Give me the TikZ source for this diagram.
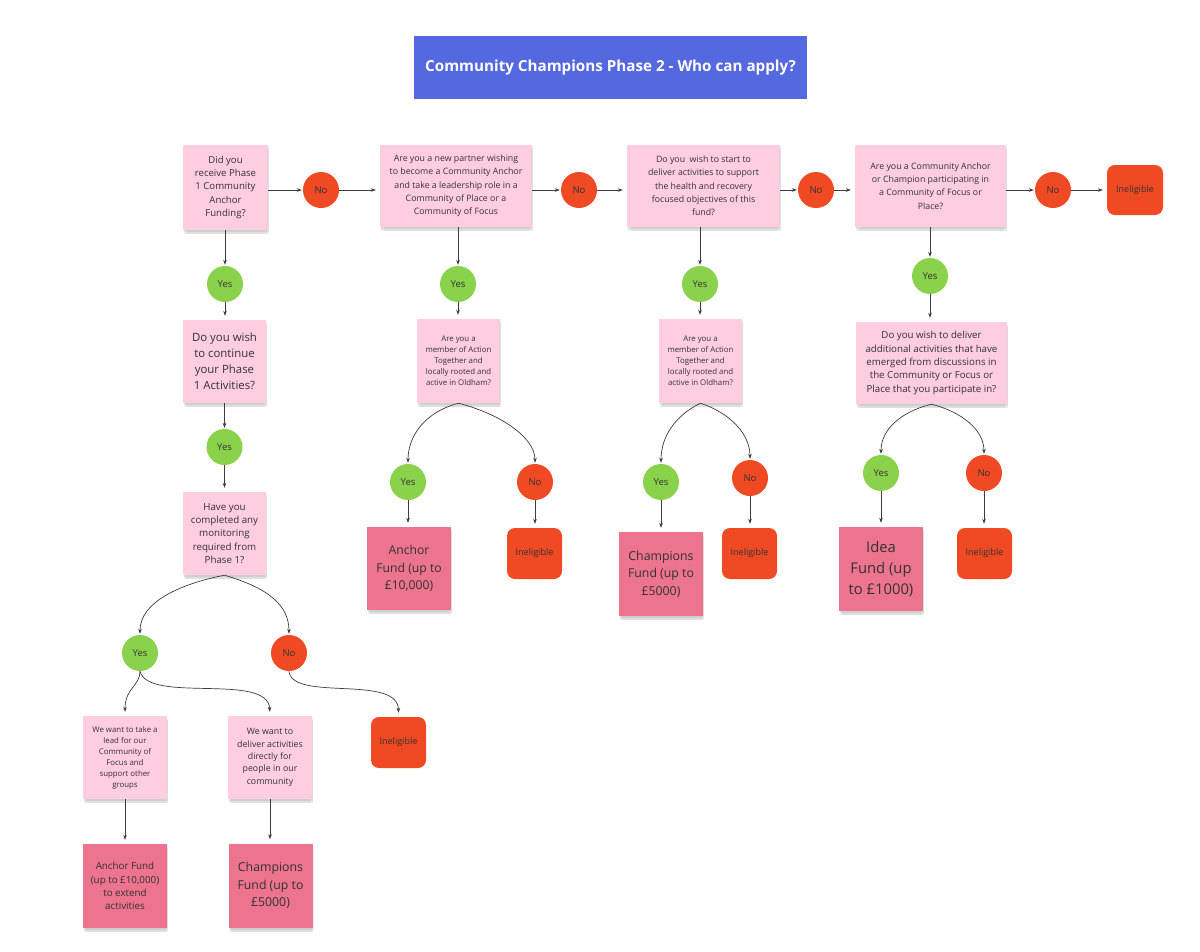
\documentclass[tikz,border=0pt]{standalone}
\usepackage{fontspec}
\setmainfont{Open Sans}
\usetikzlibrary{arrows.meta,shadows}
\definecolor{qpink}{RGB}{254,205,224}
\definecolor{fundpink}{RGB}{237,116,143}
\definecolor{nored}{RGB}{240,74,36}
\definecolor{okgreen}{RGB}{139,210,76}
\definecolor{titleblue}{RGB}{84,104,223}
\definecolor{txt}{RGB}{50,50,50}
\definecolor{linec}{RGB}{60,60,60}
\tikzset{
  base/.style={inner sep=0pt, align=center, text=txt},
  note/.style={base, rectangle, fill=qpink,
    drop shadow={shadow xshift=0.5pt, shadow yshift=-2pt, opacity=0.07, fill=black},
    drop shadow={shadow xshift=1pt, shadow yshift=-4pt, opacity=0.07, fill=black},
    drop shadow={shadow xshift=1pt, shadow yshift=-6pt, shadow scale=0.96, opacity=0.06, fill=black}},
  fund/.style={note, fill=fundpink},
  yesc/.style={base, circle, fill=okgreen, minimum size=36pt, font=\fontsize{9.5}{11}\selectfont},
  noc/.style={base, circle, fill=nored, minimum size=36pt, font=\fontsize{9.5}{11}\selectfont},
  inel/.style={base, rectangle, rounded corners=8pt, fill=nored, minimum width=55pt, minimum height=51pt, font=\fontsize{9}{11}\selectfont},
  arr/.style={draw=linec, line width=0.7pt, -{Stealth[length=5pt,width=3.6pt]}, shorten >=1pt},
  arrb/.style={arr, shorten >=4pt},
  fq/.style={font=\fontsize{8.8}{13.3}\selectfont},
  fs/.style={font=\fontsize{7.85}{11}\selectfont},
}
\begin{document}
\begin{tikzpicture}[x=1pt,y=-1pt]
\useasboundingbox (0,0) rectangle (1200,951);
\fill[white] (0,0) rectangle (1200,951);

% title
\node[base, rectangle, fill=titleblue, minimum width=393pt, minimum height=63pt, text=white,
  font=\fontsize{15.2}{18}\selectfont\bfseries] (title) at (610.5,67.5) {Community Champions Phase 2 - Who can apply?};

% top row
\node[note, minimum width=85pt, minimum height=85pt, font=\fontsize{9.6}{13.3}\selectfont] (q1) at (225.5,187.5)
  {Did you\\receive Phase\\1 Community\\Anchor\\Funding?};
\node[noc] (n1) at (321,190) {No};
\node[note, fq, minimum width=152pt, minimum height=82pt] (q2) at (456,186)
  {Are you a new partner wishing\\to become a Community Anchor\\and take a leadership role in a\\Community of Place or a\\Community of Focus};
\node[noc] (n2) at (579,190) {No};
\node[note, fq, minimum width=153pt, minimum height=82pt] (q3) at (703.5,186)
  {Do you\ \ wish to start to\\deliver activities to support\\the health and recovery\\focused objectives of this\\fund?};
\node[noc] (n3) at (816,190) {No};
\node[note, fq, minimum width=151pt, minimum height=82pt] (q4) at (930.5,186)
  {Are you a Community Anchor\\or Champion participating in\\a Community of Focus or\\Place?};
\node[noc] (n4) at (1053,190) {No};
\node[inel, minimum width=56pt, minimum height=50pt] (i0) at (1135,190) {Ineligible};

% column 1
\node[yesc] (y1) at (225,284) {Yes};
\node[note, minimum width=83pt, minimum height=83pt, font=\fontsize{11.4}{16}\selectfont] (q1b) at (224.5,361.5)
  {Do you wish\\to continue\\your Phase\\1 Activities?};
\node[yesc] (y1b) at (224.5,447) {Yes};
\node[note, minimum width=83pt, minimum height=83pt, font=\fontsize{9.75}{13.3}\selectfont] (q1c) at (224.5,533.5)
  {Have you\\completed any\\monitoring\\required from\\Phase 1?};
\node[yesc] (yc) at (140,653) {Yes};
\node[noc] (nc) at (289,653) {No};
\node[note, fs, minimum width=84pt, minimum height=83pt] (l1) at (125,757.5)
  {We want to take a\\lead for our\\Community of\\Focus and\\support other\\groups};
\node[note, minimum width=84pt, minimum height=83pt, font=\fontsize{8.8}{12.3}\selectfont] (l2) at (270,757.5)
  {We want to\\deliver activities\\directly for\\people in our\\community};
\node[inel] (ic) at (398.5,742.5) {Ineligible};
\node[fund, minimum width=84pt, minimum height=84pt, font=\fontsize{9.8}{13.3}\selectfont] (f1) at (125,886)
  {Anchor Fund\\(up to £10,000)\\to extend\\activities};
\node[fund, minimum width=84pt, minimum height=84pt, font=\fontsize{12.3}{17.3}\selectfont] (f2) at (270.5,885.5)
  {Champions\\Fund (up to\\£5000)};

% column 2
\node[yesc] (y2) at (458,284) {Yes};
\node[note, fs, minimum width=83pt, minimum height=84pt] (q2b) at (458.5,361)
  {Are you a\\member of Action\\Together and\\locally rooted and\\active in Oldham?};
\node[yesc] (y2c) at (408,482) {Yes};
\node[noc] (n2c) at (535,482) {No};
\node[fund, minimum width=84pt, minimum height=83pt, font=\fontsize{12.2}{17.3}\selectfont] (f3) at (409,568.5)
  {Anchor\\Fund (up to\\£10,000)};
\node[inel] (i2) at (534.5,553.5) {Ineligible};

% column 3
\node[yesc] (y3) at (700,284) {Yes};
\node[note, fs, minimum width=83pt, minimum height=84pt] (q3b) at (700.5,361)
  {Are you a\\member of Action\\Together and\\locally rooted and\\active in Oldham?};
\node[yesc] (y3c) at (661,482) {Yes};
\node[noc] (n3c) at (750,478) {No};
\node[fund, minimum width=84pt, minimum height=84pt, font=\fontsize{12.3}{17.3}\selectfont] (f4) at (661,574)
  {Champions\\Fund (up to\\£5000)};
\node[inel] (i3) at (749.5,553.5) {Ineligible};

% column 4
\node[yesc] (y4) at (930,276) {Yes};
\node[note, minimum width=151pt, minimum height=82pt, font=\fontsize{9.7}{13.3}\selectfont] (q4b) at (931.5,363)
  {Do you wish to deliver\\additional activities that have\\emerged from discussions in\\the Community or Focus or\\Place that you participate in?};
\node[yesc] (y4c) at (881,473) {Yes};
\node[noc] (n4c) at (984,473) {No};
\node[fund, minimum width=84pt, minimum height=84pt, font=\fontsize{14.8}{21}\selectfont] (f5) at (881,569)
  {Idea\\Fund (up\\to £1000)};
\node[inel] (i4) at (984.5,553.5) {Ineligible};

% top row connectors
\draw[arr] (q1.east |- n1) -- (n1.west);
\draw[arrb] (n1.east) -- (n1.east -| q2.west);
\draw[arr] (q2.east |- n2) -- (n2.west);
\draw[arrb] (n2.east) -- (n2.east -| q3.west);
\draw[arr] (q3.east |- n3) -- (n3.west);
\draw[arrb] (n3.east) -- (n3.east -| q4.west);
\draw[arr] (q4.east |- n4) -- (n4.west);
\draw[arrb] (n4.east) -- (i0.west);

% column 1 connectors
\draw[arr] (q1.south -| y1) -- (y1.north);
\draw[arrb] (y1.south) -- (y1.south |- q1b.north);
\draw[arr] (q1b.south -| y1b) -- (y1b.north);
\draw[arrb] (y1b.south) -- (y1b.south |- q1c.north);
\draw[arr] (q1c.south) .. controls (180,584) and (140,602) .. (yc.north);
\draw[arr] (q1c.south) .. controls (268,588) and (289,605) .. (nc.north);
\draw[arrb] (yc.south) .. controls (140,686) and (125,688) .. (l1.north);
\draw[arrb] (yc.south) .. controls (148,704) and (268,672) .. (l2.north);
\draw[arrb] (nc.south) .. controls (292,702) and (398,674) .. (ic.north);
\draw[arrb] (l1.south) -- (f1.north);
\draw[arrb] (l2.south) -- (l2.south |- f2.north);

% column 2 connectors
\draw[arr] (q2.south -| y2) -- (y2.north);
\draw[arrb] (y2.south) -- (y2.south |- q2b.north);
\draw[arr] (q2b.south) .. controls (425,412) and (408,436) .. (y2c.north);
\draw[arr] (q2b.south) .. controls (497,413) and (535,436) .. (n2c.north);
\draw[arrb] (y2c.south) -- (y2c.south |- f3.north);
\draw[arrb] (n2c.south) -- (n2c.south |- i2.north);

% column 3 connectors
\draw[arr] (q3.south -| y3) -- (y3.north);
\draw[arrb] (y3.south) -- (y3.south |- q3b.north);
\draw[arr] (q3b.south) .. controls (676,415) and (661,436) .. (y3c.north);
\draw[arr] (q3b.south) .. controls (730,413) and (750,434) .. (n3c.north);
\draw[arrb] (y3c.south) -- (y3c.south |- f4.north);
\draw[arrb] (n3c.south) -- (n3c.south |- i3.north);

% column 4 connectors
\draw[arr] (q4.south -| y4) -- (y4.north);
\draw[arrb] (y4.south) -- (y4.south |- q4b.north);
\draw[arr] (q4b.south) .. controls (900,412) and (881,430) .. (y4c.north);
\draw[arr] (q4b.south) .. controls (962,412) and (984,430) .. (n4c.north);
\draw[arrb] (y4c.south) -- (y4c.south |- f5.north);
\draw[arrb] (n4c.south) -- (n4c.south |- i4.north);
\end{tikzpicture}
\end{document}
